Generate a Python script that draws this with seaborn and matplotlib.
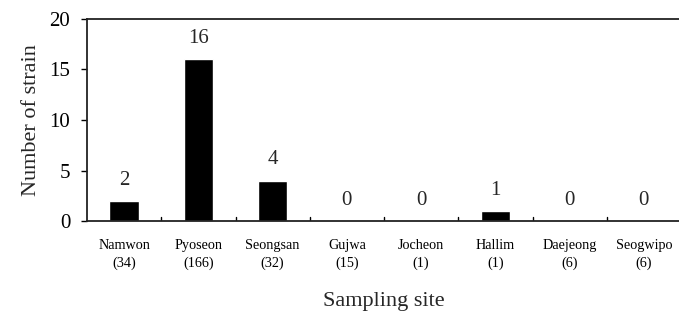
import matplotlib
matplotlib.use("Agg")
import matplotlib.pyplot as plt
import seaborn as sns
import pandas as pd

sites = ["Namwon", "Pyoseon", "Seongsan", "Gujwa", "Jocheon", "Hallim", "Daejeong", "Seogwipo"]
samples = [34, 166, 32, 15, 1, 1, 6, 6]
strains = [2, 16, 4, 0, 0, 1, 0, 0]

df = pd.DataFrame({"site": sites, "n": samples, "strains": strains})
df["label"] = [f"{s}\n({n})" for s, n in zip(df["site"], df["n"])]

sns.set_theme(style="ticks")
plt.rcParams["font.family"] = ["Liberation Serif", "DejaVu Serif"]

fig = plt.figure(figsize=(6.79, 3.23), dpi=100)
ax = fig.add_axes([87 / 679, 1 - 221 / 323, 594 / 679, 202 / 323])

sns.barplot(data=df, x="label", y="strains", color="black", width=0.4,
            saturation=1, ax=ax)

# count above each bar
for i, v in enumerate(strains):
    ax.text(i, v + 1.1, str(v), ha="center", va="bottom", fontsize=15)

ax.set_ylim(0, 20)
ax.set_xlim(-0.5, len(sites) - 0.5)
ax.set_yticks([0, 5, 10, 15, 20])
ax.tick_params(axis="y", labelsize=15, direction="out", length=4, width=1,
               pad=8, colors="black")
ax.tick_params(axis="x", labelsize=10.2, length=0, pad=13, colors="black")
for t in ax.get_xticklabels():
    t.set_linespacing(1.45)
# small inward ticks between categories
for b in range(1, len(sites)):
    ax.plot([b - 0.5, b - 0.5], [0, 0.4], color="black", lw=1)

ax.set_ylabel("Number of strain", fontsize=16, labelpad=6)
ax.set_xlabel("Sampling site", fontsize=16, labelpad=16)
for s in ax.spines.values():
    s.set_color("#222222")
    s.set_linewidth(1.3)

fig.savefig("out.png", dpi=100)
